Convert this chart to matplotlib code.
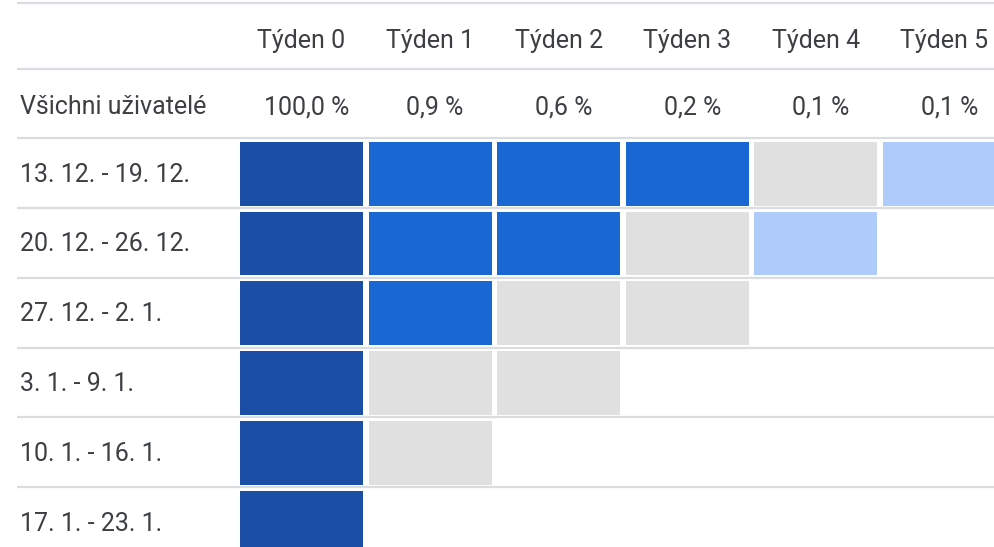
import numpy as np
import matplotlib.pyplot as plt
from matplotlib.colors import ListedColormap, BoundaryNorm

# cohort retention table (weekly)
weeks = ["Týden 0", "Týden 1", "Týden 2", "Týden 3", "Týden 4", "Týden 5"]
all_users = [100.0, 0.9, 0.6, 0.2, 0.1, 0.1]
cohorts = ["13. 12. - 19. 12.", "20. 12. - 26. 12.", "27. 12. - 2. 1.",
           "3. 1. - 9. 1.", "10. 1. - 16. 1.", "17. 1. - 23. 1."]
# estimated retention per cohort (%), read from cell shading
retention = [
    [100.0, 1.5, 1.2, 0.8, 0.0, 0.4],
    [100.0, 1.3, 0.9, 0.0, 0.3],
    [100.0, 1.1, 0.0, 0.0],
    [100.0, 0.0, 0.0],
    [100.0, 0.0],
    [100.0],
]

cmap = ListedColormap(["#e0e0e0", "#aecbfa", "#1967d2", "#1a4fa5"])
norm = BoundaryNorm([-1, 0.05, 0.5, 50, 101], cmap.N)

plt.rcParams['font.family'] = ['Roboto', 'DejaVu Sans']
txt = "#3c4043"
grid = "#dadce0"
fs = 18

fig = plt.figure(figsize=(9.94, 5.47), dpi=100)
ax = fig.add_axes([0, 0, 1, 1])
ax.axis("off")

# pixel layout: column pitch 128.6 px starting at x=240, row pitch 69.8 px
px, py, x0, y0 = 128.6, 69.78, 240, 138.3
ax.set_xlim(-x0 / px, (994 - x0) / px)
ax.set_ylim((547 - y0) / py, -y0 / py)

xl = (17 - x0) / px
xr = (994 - x0) / px
ax.hlines([(2.7 - y0) / py, -1] + list(range(len(cohorts))), xl, xr,
          color=grid, lw=1.6, zorder=0)

cw, ch = 0.957, 0.915
for i, row in enumerate(retention):
    vals = np.array(row)
    ax.bar(np.arange(len(vals)), ch, bottom=i + 0.05, width=cw, align="edge",
           color=cmap(norm(vals)), zorder=2)
    ax.text((20 - x0) / px, i + 0.622, cohorts[i], fontsize=fs, color=txt,
            va="baseline", ha="left")

for j, w in enumerate(weeks):
    ax.text(j + cw / 2, -1.294, w, fontsize=fs, color=txt, ha="center", va="baseline")
    lab = f"{all_users[j]:.1f}".replace(".", ",") + " %"
    ax.text(j + cw / 2 + 5 / px, -0.348, lab, fontsize=fs, color=txt,
            ha="center", va="baseline")

ax.text((20 - x0) / px, -0.348, "Všichni uživatelé", fontsize=fs, color=txt,
        ha="left", va="baseline")

fig.savefig("out.png", dpi=100)
